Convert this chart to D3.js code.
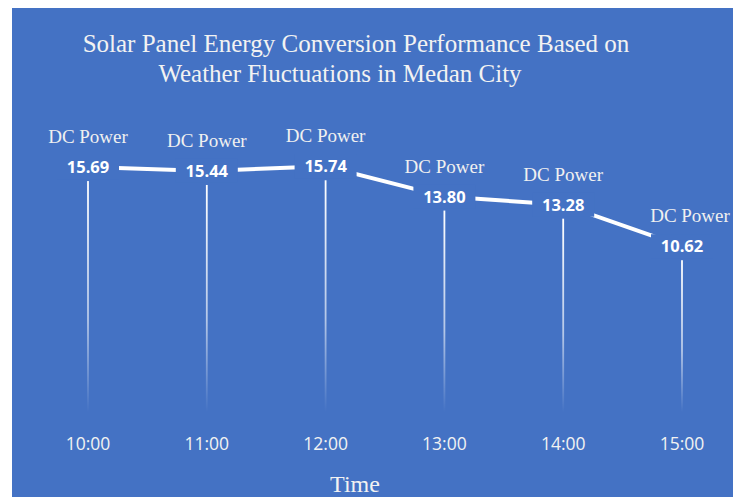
<!DOCTYPE html>
<html>
<head>
<meta charset="utf-8">
<script src="https://cdn.jsdelivr.net/npm/d3@7"></script>
<style>
  html, body { margin: 0; padding: 0; background: #ffffff; }
  svg { display: block; }
</style>
</head>
<body>
<svg id="chart" width="733" height="497"></svg>
<script>
// Hourly DC power readings
const times = ["10:00", "11:00", "12:00", "13:00", "14:00", "15:00"];
const dcPower = [15.69, 15.44, 15.74, 13.80, 13.28, 10.62];
const seriesName = "DC Power";
const titleLines = [
  "Solar Panel Energy Conversion Performance Based on",
  "Weather Fluctuations in Medan City"
];
const xAxisTitle = "Time";

const W = 733, H = 497;
const bg = "#4472c4";
const serif = "'Liberation Serif', 'Times New Roman', serif";
const sans = "'Open Sans', sans-serif";
const svg = d3.select("#chart");

// panel background
svg.append("rect").attr("x", 12).attr("y", 8).attr("width", W - 12).attr("height", H - 8).attr("fill", bg);

const x = d3.scalePoint().domain(times).range([88, 682]);
const y = d3.scaleLinear().domain([0, 18]).range([412, 131]);

// gradient for drop lines, bright at top fading toward baseline
const defs = svg.append("defs");
const grad = defs.append("linearGradient").attr("id", "dropFade")
  .attr("gradientUnits", "objectBoundingBox")
  .attr("x1", 0).attr("y1", 0).attr("x2", 0).attr("y2", 1);
grad.append("stop").attr("offset", "0%").attr("stop-color", "#ffffff").attr("stop-opacity", 1);
grad.append("stop").attr("offset", "60%").attr("stop-color", "#ffffff").attr("stop-opacity", 0.6);
grad.append("stop").attr("offset", "100%").attr("stop-color", "#ffffff").attr("stop-opacity", 0);

const data = times.map((t, i) => ({ t, v: dcPower[i] }));

// drop lines from each point to the baseline
svg.append("g").selectAll("rect").data(data).join("rect")
  .attr("x", d => x(d.t) - 0.9)
  .attr("y", d => y(d.v) + 14)
  .attr("width", 1.8)
  .attr("height", d => y(0) - y(d.v) - 14)
  .attr("fill", "url(#dropFade)");

// connecting line
svg.append("path").datum(data)
  .attr("fill", "none")
  .attr("stroke", "#ffffff")
  .attr("stroke-width", 4)
  .attr("d", d3.line().x(d => x(d.t)).y(d => y(d.v)));

// value labels with background boxes that mask the line
const vl = svg.append("g").selectAll("g").data(data).join("g")
  .attr("transform", d => `translate(${x(d.t)},${y(d.v)})`);
vl.append("rect")
  .attr("x", -31).attr("y", -12).attr("width", 62).attr("height", 24)
  .attr("fill", bg);
vl.append("text")
  .attr("text-anchor", "middle")
  .attr("dy", "0.36em")
  .attr("font-family", sans)
  .attr("font-weight", 700)
  .attr("font-size", 16.5)
  .attr("fill", "#ffffff")
  .text(d => d.v.toFixed(2));

// series name labels
vl.append("text")
  .attr("text-anchor", "middle")
  .attr("x", (d, i) => i === times.length - 1 ? 8 : 0)
  .attr("y", -24)
  .attr("font-family", serif)
  .attr("font-size", 19)
  .attr("fill", "#f0f0f0")
  .text(seriesName);

// category axis labels
svg.append("g").selectAll("text").data(times).join("text")
  .attr("x", d => x(d))
  .attr("y", 450)
  .attr("text-anchor", "middle")
  .attr("font-family", sans)
  .attr("font-size", 17.5)
  .attr("fill", "#f2f2f2")
  .text(d => d);

// title
svg.append("text").attr("x", 356).attr("y", 52)
  .attr("text-anchor", "middle")
  .attr("font-family", serif)
  .attr("font-size", 25).attr("fill", "#f2f2f2")
  .text(titleLines[0]);
svg.append("text").attr("x", 340).attr("y", 82)
  .attr("text-anchor", "middle")
  .attr("font-family", serif)
  .attr("font-size", 25).attr("fill", "#f2f2f2")
  .text(titleLines[1]);

// axis title
svg.append("text").attr("x", 355).attr("y", 492)
  .attr("text-anchor", "middle")
  .attr("font-family", serif)
  .attr("font-size", 24).attr("fill", "#f2f2f2")
  .text(xAxisTitle);
</script>
</body>
</html>
